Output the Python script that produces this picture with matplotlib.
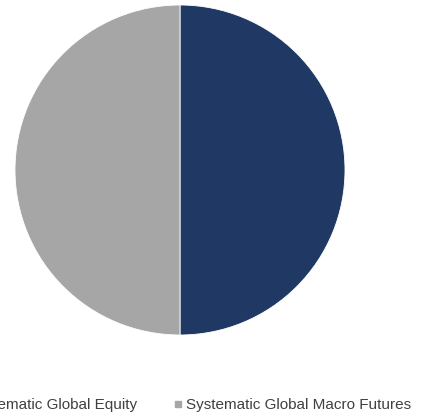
import matplotlib
matplotlib.use('Agg')
import matplotlib.pyplot as plt
from matplotlib.lines import Line2D

labels = ['Systematic Global Equity', 'Systematic Global Macro Futures']
values = [50, 50]
colors = ['#1F3864', '#A6A6A6']

plt.rcParams['font.family'] = ['Liberation Sans', 'DejaVu Sans']

fig = plt.figure(figsize=(4.29, 4.12), dpi=100)
ax = fig.add_axes([15/429, 77/412, 330/429, 330/412])
ax.pie(values, colors=colors, startangle=90, counterclock=False,
       wedgeprops=dict(edgecolor='white', linewidth=0.6))
ax.set_xlim(-1, 1)
ax.set_ylim(-1, 1)
ax.set_aspect('equal')

handles = [Line2D([], [], marker='s', linestyle='none', markersize=5,
                  markerfacecolor=c, markeredgecolor=c) for c in colors]
fig.legend(handles, labels, loc='center', bbox_to_anchor=(183/429, 1 - 405/412),
           ncol=2, frameon=False, fontsize=11, handlelength=0.6,
           handletextpad=0.25, columnspacing=2.4, labelcolor='#404040')

fig.savefig('out.png', dpi=100)
